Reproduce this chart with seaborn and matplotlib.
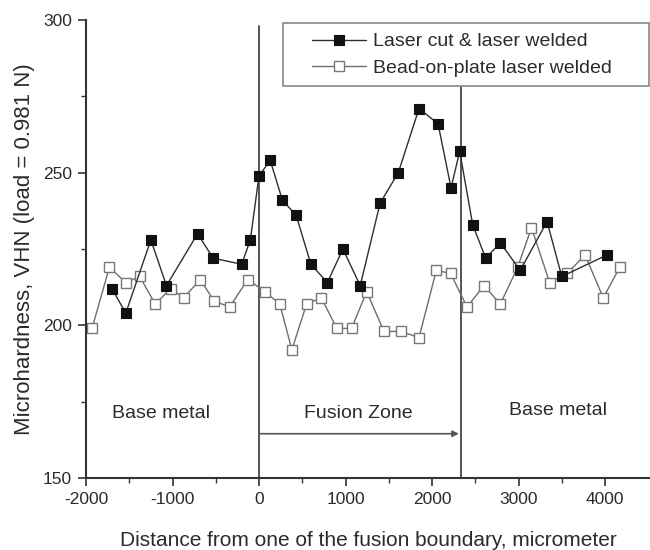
import matplotlib
matplotlib.use("Agg")
import matplotlib.pyplot as plt
from matplotlib.patches import Rectangle
import seaborn as sns
import pandas as pd

# Microhardness traverse across the weld (distance in micrometers, hardness in VHN)
cut_x = [-1700, -1540, -1250, -1070, -710, -530, -200, -100, 0, 130, 270, 430,
         600, 790, 970, 1170, 1400, 1610, 1850, 2070, 2220, 2320, 2470, 2620,
         2790, 3020, 3330, 3500, 4020]
cut_y = [212, 204, 228, 213, 230, 222, 220, 228, 249, 254, 241, 236,
         220, 214, 225, 213, 240, 250, 271, 266, 245, 257, 233, 222,
         227, 218, 234, 216, 223]

bead_x = [-1930, -1730, -1540, -1380, -1200, -1020, -870, -680, -520, -340, -130,
          70, 240, 380, 550, 720, 900, 1070, 1245, 1445, 1640, 1850, 2050, 2215,
          2405, 2600, 2790, 2990, 3150, 3360, 3560, 3770, 3980, 4170]
bead_y = [199, 219, 214, 216, 207, 212, 209, 215, 208, 206, 215,
          211, 207, 192, 207, 209, 199, 199, 211, 198, 198, 196, 218, 217,
          206, 213, 207, 219, 232, 214, 217, 223, 209, 219]

series_names = ["Laser cut & laser welded", "Bead-on-plate laser welded"]
x_ticks = [-2000, -1000, 0, 1000, 2000, 3000, 4000]
y_ticks = [150, 200, 250, 300]
fusion_start, fusion_end = 0, 2330

cut_df = pd.DataFrame({"x": cut_x, "y": cut_y})
bead_df = pd.DataFrame({"x": bead_x, "y": bead_y})

sns.set_theme(style="ticks")
plt.rcParams["font.family"] = ["Liberation Sans", "DejaVu Sans"]
plt.rcParams["axes.unicode_minus"] = False
text_col = "#2b2b2b"

fig = plt.figure(figsize=(6.5, 5.5), dpi=100)
ax = fig.add_axes([86 / 650, 1 - 478 / 550, 1 - 86 / 650, (478 - 20) / 550])

# fusion boundaries
for xv in (fusion_start, fusion_end):
    ax.plot([xv, xv], [150, 298], color="#555555", lw=1.4, zorder=1)

sns.lineplot(data=cut_df, x="x", y="y", ax=ax, sort=False, estimator=None,
             color="#2e2e2e", lw=1.0, marker="s", markersize=6.5,
             markerfacecolor="#111111", markeredgecolor="#111111",
             markeredgewidth=0.8, label=series_names[0], zorder=3)
sns.lineplot(data=bead_df, x="x", y="y", ax=ax, sort=False, estimator=None,
             color="#6e6e6e", lw=1.0, marker="s", markersize=6.5,
             markerfacecolor="white", markeredgecolor="#777777",
             markeredgewidth=1.0, label=series_names[1], zorder=2)

ax.set_xlim(-2000, 4520)
ax.set_ylim(150, 300)
ax.set_xticks(x_ticks)
ax.set_yticks(y_ticks)
ax.set_xticks(range(-1500, 4500, 1000), minor=True)
ax.set_yticks([175, 225, 275], minor=True)
ax.tick_params(axis="both", which="major", direction="out", length=6, width=1.2,
               color="#333333", labelsize=12.5, labelcolor=text_col, pad=4)
ax.tick_params(axis="both", which="minor", direction="out", length=3.5, width=1.0,
               color="#333333")
for side in ("top", "right"):
    ax.spines[side].set_visible(False)
for side in ("left", "bottom"):
    ax.spines[side].set_color("#333333")
    ax.spines[side].set_linewidth(1.5)

ax.set_xlabel("Distance from one of the fusion boundary, micrometer",
              fontsize=15, color=text_col, labelpad=17)
ax.set_ylabel("Microhardness, VHN (load = 0.981 N)", fontsize=16,
              color=text_col, labelpad=6)

# zone annotations
ax.text(-1700, 171, "Base metal", fontsize=14, color=text_col, va="center", ha="left")
ax.text(1150, 171, "Fusion Zone", fontsize=14, color=text_col, va="center", ha="center")
ax.text(4020, 172, "Base metal", fontsize=14, color=text_col, va="center", ha="right")
ax.annotate("", xy=(fusion_end - 20, 164.5), xytext=(fusion_start, 164.5),
            arrowprops=dict(arrowstyle="-|>", color="#555555", lw=1.2,
                            mutation_scale=9, shrinkA=0, shrinkB=0))

# legend: white box drawn separately so the entries can sit inside it with wide margins
box = Rectangle((0.3493, 0.8559), 0.6489, 0.1375, transform=ax.transAxes,
                facecolor="white", edgecolor="#888888", lw=1.2, zorder=4,
                clip_on=False)
ax.add_patch(box)
leg = ax.legend(loc="upper left", bbox_to_anchor=(0.4007, 0.972), borderaxespad=0,
                borderpad=0, fontsize=14, frameon=False, handlelength=2.78,
                labelspacing=0.45, handletextpad=0.36)
leg.set_zorder(5)
for t in leg.get_texts():
    t.set_color(text_col)

fig.savefig("out.png", dpi=100)
